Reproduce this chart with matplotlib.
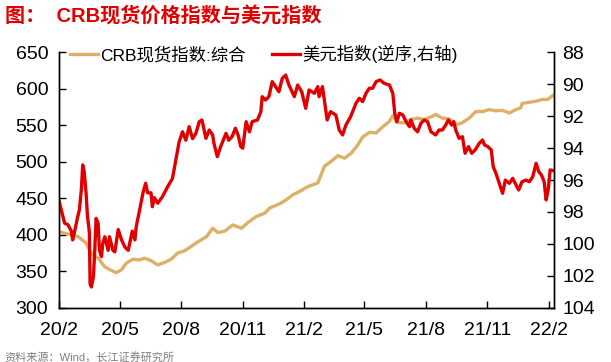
import matplotlib
matplotlib.use('Agg')
import matplotlib.pyplot as plt
import matplotlib.dates as mdates
import pandas as pd

plt.rcParams['font.family'] = ['Liberation Sans', 'Noto Sans CJK SC']
plt.rcParams['axes.unicode_minus'] = False

# CRB spot index (left axis)
crb_dates = ['2020-02-01', '2020-02-14', '2020-02-22', '2020-02-29', '2020-03-12', '2020-03-20',
             '2020-03-30', '2020-04-09', '2020-04-19', '2020-04-26', '2020-05-04', '2020-05-11',
             '2020-05-21', '2020-05-31', '2020-06-07', '2020-06-17', '2020-06-27', '2020-07-07',
             '2020-07-17', '2020-07-27', '2020-08-06', '2020-08-19', '2020-08-29', '2020-09-08',
             '2020-09-17', '2020-09-25', '2020-10-05', '2020-10-17', '2020-10-30', '2020-11-09',
             '2020-11-21', '2020-12-04', '2020-12-11', '2020-12-26', '2021-01-05', '2021-01-15',
             '2021-01-25', '2021-02-06', '2021-02-21', '2021-03-03', '2021-03-13', '2021-03-23',
             '2021-04-02', '2021-04-12', '2021-04-22', '2021-04-29', '2021-05-09', '2021-05-19',
             '2021-05-29', '2021-06-08', '2021-06-13', '2021-06-20', '2021-06-30', '2021-07-10',
             '2021-07-20', '2021-07-30', '2021-08-11', '2021-08-16', '2021-08-26', '2021-09-05',
             '2021-09-17', '2021-09-25', '2021-10-05', '2021-10-15', '2021-10-25', '2021-11-04',
             '2021-11-14', '2021-11-24', '2021-12-04', '2021-12-14', '2021-12-21', '2021-12-23',
             '2022-01-02', '2022-01-12', '2022-01-22', '2022-01-30', '2022-02-07']
crb_values = [404, 401, 400, 397.5, 388.5, 374,
              368, 356, 351, 348, 352, 361,
              366.5, 365.5, 368, 364.5, 358.7, 362,
              366.5, 375, 378, 386, 392, 397.5,
              409, 403, 405, 413.5, 409, 417,
              425, 429.7, 436.6, 442.5, 448, 455,
              459.5, 466, 471, 494, 500.7, 508.5,
              505, 512, 523.6, 534, 540.5, 539.7,
              548, 555.6, 563.5, 554, 553.4, 558,
              560, 558, 562.5, 565, 560, 559,
              551, 554, 560, 569, 569, 571.7,
              570, 570.7, 567, 571.7, 574, 580,
              581.7, 583, 585.5, 585.5, 591]

# US dollar index (right axis, inverted)
usd_dates = ['2020-02-01', '2020-02-04', '2020-02-09', '2020-02-14', '2020-02-19', '2020-02-21',
             '2020-02-24', '2020-02-28', '2020-03-02', '2020-03-05', '2020-03-07', '2020-03-09',
             '2020-03-12', '2020-03-14', '2020-03-17', '2020-03-18', '2020-03-20', '2020-03-23',
             '2020-03-25', '2020-03-27', '2020-03-30', '2020-04-01', '2020-04-04', '2020-04-06',
             '2020-04-09', '2020-04-14', '2020-04-16', '2020-04-21', '2020-04-24', '2020-04-29',
             '2020-05-04', '2020-05-09', '2020-05-14', '2020-05-20', '2020-05-24', '2020-05-26',
             '2020-05-31', '2020-06-05', '2020-06-09', '2020-06-12', '2020-06-17', '2020-06-19',
             '2020-06-22', '2020-06-27', '2020-07-04', '2020-07-12', '2020-07-19', '2020-07-24',
             '2020-07-29', '2020-08-03', '2020-08-08', '2020-08-13', '2020-08-18', '2020-08-23',
             '2020-08-28', '2020-09-01', '2020-09-07', '2020-09-12', '2020-09-17', '2020-09-19',
             '2020-09-24', '2020-09-29', '2020-10-07', '2020-10-11', '2020-10-16', '2020-10-21',
             '2020-10-25', '2020-10-29', '2020-11-01', '2020-11-06', '2020-11-11', '2020-11-15',
             '2020-11-23', '2020-11-28', '2020-11-30', '2020-12-05', '2020-12-10', '2020-12-15',
             '2020-12-20', '2020-12-25', '2020-12-30', '2021-01-04', '2021-01-09', '2021-01-17',
             '2021-01-22', '2021-01-28', '2021-02-03', '2021-02-08', '2021-02-16', '2021-02-21',
             '2021-02-23', '2021-02-28', '2021-03-05', '2021-03-07', '2021-03-12', '2021-03-20',
             '2021-03-25', '2021-03-30', '2021-04-04', '2021-04-11', '2021-04-19', '2021-04-24',
             '2021-04-29', '2021-05-04', '2021-05-09', '2021-05-14', '2021-05-19', '2021-05-25',
             '2021-05-31', '2021-06-08', '2021-06-13', '2021-06-16', '2021-06-19', '2021-06-23',
             '2021-06-28', '2021-07-03', '2021-07-08', '2021-07-10', '2021-07-15', '2021-07-20',
             '2021-07-25', '2021-07-30', '2021-08-04', '2021-08-09', '2021-08-16', '2021-08-21',
             '2021-08-26', '2021-08-31', '2021-09-04', '2021-09-09', '2021-09-12', '2021-09-15',
             '2021-09-20', '2021-09-25', '2021-09-29', '2021-10-04', '2021-10-09', '2021-10-14',
             '2021-10-20', '2021-10-25', '2021-10-28', '2021-11-02', '2021-11-07', '2021-11-10',
             '2021-11-14', '2021-11-19', '2021-11-24', '2021-11-28', '2021-12-04', '2021-12-09',
             '2021-12-14', '2021-12-18', '2021-12-23', '2021-12-29', '2022-01-03', '2022-01-08',
             '2022-01-13', '2022-01-17', '2022-01-21', '2022-01-25', '2022-01-28', '2022-01-31',
             '2022-02-03', '2022-02-07']
usd_values = [97.35, 97.87, 98.7, 98.8, 99.2, 99.75,
              99.2, 98.4, 97.87, 96.6, 95.05, 95.4,
              96.8, 98.2, 99.3, 102.5, 102.7, 102.05,
              100.4, 98.4, 98.7, 100.4, 100.8, 99.96,
              99.55, 100.4, 99.55, 100.4, 100.5, 99.1,
              99.75, 100.2, 100.4, 99.2, 99.75, 98.9,
              97.87, 96.8, 96.2, 96.8, 96.8, 97.67,
              97.1, 97.45, 97.04, 96.4, 95.9, 94.74,
              93.6, 92.97, 93.5, 92.65, 93.4, 93.07,
              92.34, 92.23, 93.38, 92.86, 93.17, 93.7,
              94.53, 93.9, 93.07, 93.5, 93.28, 92.75,
              93.17, 93.9, 94.0, 92.34, 92.97, 92.34,
              92.23, 91.71, 90.77, 90.98, 90.77, 89.83,
              90.14, 90.46, 89.62, 89.41, 90.04, 90.77,
              90.04, 90.46, 91.5, 90.35, 90.56, 90.14,
              90.77, 90.14, 91.6, 92.23, 91.71, 91.92,
              92.86, 93.17, 92.55, 92.03, 91.19, 90.87,
              91.08, 90.56, 90.24, 90.24, 89.83, 89.72,
              89.93, 90.04, 90.56, 91.81, 92.34, 91.81,
              91.92, 92.34, 92.65, 92.23, 92.75, 92.97,
              92.44, 92.23, 92.34, 92.97, 93.17, 92.86,
              92.86, 92.55, 92.23, 92.55, 92.34, 92.86,
              93.38, 93.28, 94.32, 93.9, 94.32, 94.11,
              93.7, 93.49, 93.8, 93.9, 94.11, 95.16,
              95.57, 96.2, 96.83, 96.0, 96.2, 95.89,
              96.3, 96.62, 96.1, 96.0, 96.1, 95.79,
              94.95, 95.47, 95.68, 96.1, 97.24, 96.62,
              95.36, 95.4]

tick_dates = ['2020-02-01', '2020-05-01', '2020-08-01', '2020-11-01', '2021-02-01',
              '2021-05-01', '2021-08-01', '2021-11-01', '2022-02-01']
tick_labels = ['20/2', '20/5', '20/8', '20/11', '21/2', '21/5', '21/8', '21/11', '22/2']

TAN = '#DDB068'
RED = '#E00000'

fig = plt.figure(figsize=(6.11, 3.62), dpi=100)
ax = fig.add_axes([0.097, 0.150, 0.810, 0.705])
ax2 = ax.twinx()

l1, = ax.plot(pd.to_datetime(crb_dates), crb_values, color=TAN, lw=2.4,
              label='CRB现货指数:综合', solid_joinstyle='round')
l2, = ax2.plot(pd.to_datetime(usd_dates), usd_values, color=RED, lw=2.4,
               label='美元指数(逆序,右轴)', solid_joinstyle='round')

ax.set_ylim(300, 650)
ax.set_yticks(range(300, 651, 50))
ax2.set_ylim(104, 88)
ax2.set_yticks(range(88, 105, 2))

ax.set_xlim(pd.Timestamp('2020-02-01'), pd.Timestamp('2022-02-09'))
ax.set_xticks(pd.to_datetime(tick_dates))
ax.set_xticklabels(tick_labels)

for a in (ax, ax2):
    a.spines['top'].set_visible(False)
    for s in a.spines.values():
        s.set_linewidth(1.0)
    a.tick_params(direction='in', length=5, width=1, labelsize=14)
ax.tick_params(axis='x', pad=10)
ax.tick_params(axis='y', pad=8)
ax2.tick_params(axis='y', pad=6)

ax2.legend(handles=[l1, l2], loc='upper center', bbox_to_anchor=(0.413, 1.09),
           ncol=2, frameon=False, fontsize=12.5, handlelength=1.6,
           handletextpad=0.15, columnspacing=1.5)

fig.text(0.008, 0.955, '图：  CRB现货价格指数与美元指数', color=RED, fontsize=14.5,
         fontweight='bold', family=['Liberation Sans', 'Noto Sans CJK SC'], va='center')
fig.text(0.008, 0.012, '资料来源：Wind，长江证券研究所', color='#7F7F7F', fontsize=8,
         va='center')

fig.savefig('out.png', dpi=100)
